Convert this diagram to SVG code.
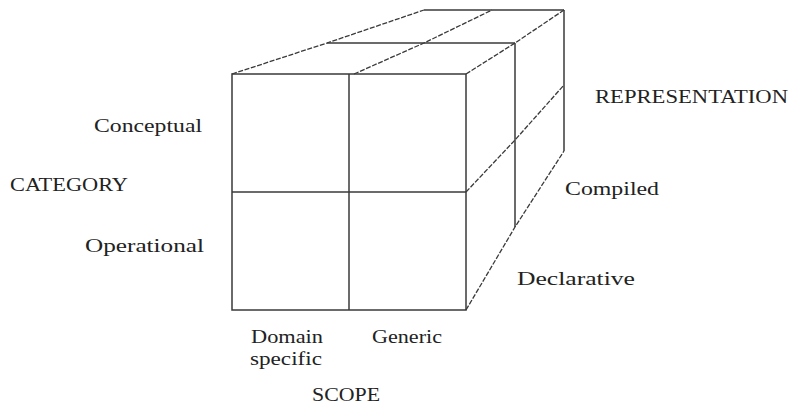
<svg xmlns="http://www.w3.org/2000/svg" width="793" height="407" viewBox="0 0 793 407">
<style>
.s{stroke:#3a3a3a;stroke-width:1.5;fill:none}
.d{stroke:#3a3a3a;stroke-width:1.3;fill:none;stroke-dasharray:5 1.6}
text{font-family:"Liberation Serif","DejaVu Serif",serif;font-size:19px;fill:#222}
</style>
<rect width="793" height="407" fill="#fff"/>
<g id="cube">
<g id="front-face">
<rect class="s" x="232" y="74" width="234" height="236"/>
<line class="s" x1="349" y1="74" x2="349" y2="310"/>
<line class="s" x1="232" y1="192" x2="466" y2="192"/>
</g>
<g id="top-face">
<line class="s" x1="327" y1="43" x2="515" y2="43"/>
<line class="s" x1="424" y1="10" x2="564" y2="10"/>
<polyline class="d" points="232,74 327,43 424,10"/>
<polyline class="d" points="354,74 424,43 492,10"/>
</g>
<g id="right-face">
<line class="s" x1="515" y1="43" x2="515" y2="227"/>
<line class="s" x1="564" y1="10" x2="564" y2="151"/>
<polyline class="d" points="466,74 515,43 564,10"/>
<polyline class="d" points="466,192 515,140 564,85"/>
<polyline class="d" points="466,310 515,227 564,151"/>
</g>
</g>
<g id="labels">
<text x="94" y="132" textLength="108" lengthAdjust="spacingAndGlyphs">Conceptual</text>
<text x="10" y="191" textLength="118" lengthAdjust="spacingAndGlyphs">CATEGORY</text>
<text x="85" y="252" textLength="119" lengthAdjust="spacingAndGlyphs">Operational</text>
<text x="251" y="343" textLength="72" lengthAdjust="spacingAndGlyphs">Domain</text>
<text x="250" y="365" textLength="72" lengthAdjust="spacingAndGlyphs">specific</text>
<text x="372" y="343" textLength="70" lengthAdjust="spacingAndGlyphs">Generic</text>
<text x="312" y="401" style="font-size:18px" textLength="68" lengthAdjust="spacingAndGlyphs">SCOPE</text>
<text x="595" y="103" textLength="193" lengthAdjust="spacingAndGlyphs">REPRESENTATION</text>
<text x="565" y="195" textLength="94" lengthAdjust="spacingAndGlyphs">Compiled</text>
<text x="517" y="285" textLength="118" lengthAdjust="spacingAndGlyphs">Declarative</text>
</g>
</svg>
